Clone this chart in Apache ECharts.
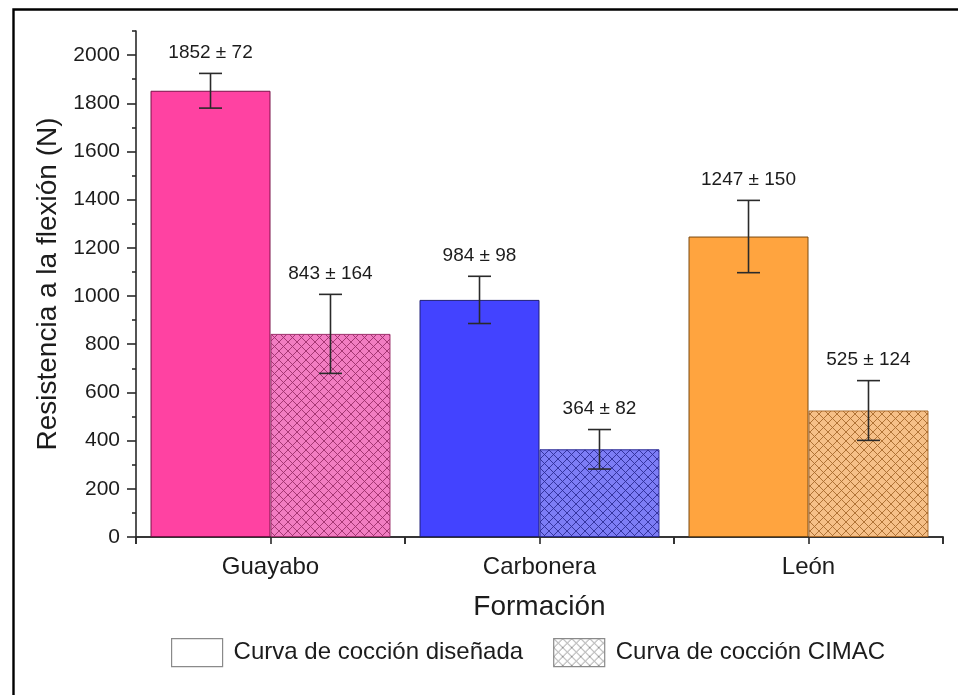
<!DOCTYPE html>
<html>
<head>
<meta charset="utf-8">
<script src="https://cdn.jsdelivr.net/npm/echarts@6/dist/echarts.min.js"></script>
<style>
  html, body { margin: 0; padding: 0; background: #fff; }
  #chart { width: 958px; height: 695px; }
</style>
</head>
<body>
<div id="chart"></div>
<script>
// Flexural strength by geological formation, two firing curves
const categories = ['Guayabo', 'Carbonera', 'León'];
const designedMean = [1852, 984, 1247];
const designedErr = [72, 98, 150];
const cimacMean = [843, 364, 525];
const cimacErr = [164, 82, 124];

const seriesNames = ['Curva de cocción diseñada', 'Curva de cocción CIMAC'];
const yMajorTicks = [0, 200, 400, 600, 800, 1000, 1200, 1400, 1600, 1800, 2000];
const yMinorTicks = [100, 300, 500, 700, 900, 1100, 1300, 1500, 1700, 1900, 2100];
// one slot per bar; this axis only carries the half-group ticks
const barSlots = ['G-d', 'G-c', 'C-d', 'C-c', 'L-d', 'L-c'];

// colours per formation
const solidColors = ['#FF42A2', '#4343FF', '#FFA43F'];
const solidEdges = ['#7A1048', '#1E1E78', '#7A4A10'];
const hatchFills = ['#F27DC2', '#7D7DF6', '#F6C088'];
const hatchLines = ['#9C2F6A', '#2C2C96', '#A86A2C'];

const FONT = '"Liberation Sans", Arial, Helvetica, sans-serif';
const TEXT = '#1c1c1c';
const AXIS = '#2a2a2a';
const TICK_LEN = 7;

function crossHatch(fill, line) {
  const s = 9;
  const c = document.createElement('canvas');
  c.width = s; c.height = s;
  const g = c.getContext('2d');
  g.fillStyle = fill;
  g.fillRect(0, 0, s, s);
  g.strokeStyle = line;
  g.lineWidth = 0.9;
  g.beginPath();
  g.moveTo(-1, -1); g.lineTo(s + 1, s + 1);
  g.moveTo(s + 1, -1); g.lineTo(-1, s + 1);
  g.stroke();
  return { image: c, repeat: 'repeat' };
}

const GAP = 0.108;           // category gap fraction
const SHIFT = (1 - GAP) / 4; // bar centre offset in band units

// error bar with caps and a "mean ± sd" label
function errorBars(side) {
  return function (params, api) {
    const i = api.value(0);
    const m = api.value(1);
    const e = api.value(2);
    const band = api.size([1, 0])[0];
    const x = api.coord([i, m])[0] + side * band * SHIFT;
    const yTop = api.coord([i, m + e])[1];
    const yBot = api.coord([i, m - e])[1];
    const cap = 11.5;
    const st = { stroke: AXIS, lineWidth: 1.6 };
    return {
      type: 'group',
      children: [
        { type: 'line', shape: { x1: x, y1: yTop, x2: x, y2: yBot }, style: st },
        { type: 'line', shape: { x1: x - cap, y1: yTop, x2: x + cap, y2: yTop }, style: st },
        { type: 'line', shape: { x1: x - cap, y1: yBot, x2: x + cap, y2: yBot }, style: st },
        {
          type: 'text', x: x, y: yTop - 21,
          style: {
            text: m + ' ± ' + e, align: 'center', verticalAlign: 'middle',
            font: '19px ' + FONT, fill: TEXT
          }
        }
      ]
    };
  };
}

const chart = echarts.init(document.getElementById('chart'), null, { renderer: 'canvas' });

const tickStyle = { color: AXIS, width: 1.6 };

const option = {
  animation: false,
  backgroundColor: '#fff',
  textStyle: { fontFamily: FONT, color: TEXT },
  grid: { left: 136, right: 15, top: 31, bottom: 158, containLabel: false },
  graphic: [{
    type: 'rect', left: 11, top: 7, silent: true,
    shape: { width: 980, height: 720 },
    style: { fill: 'none', stroke: '#000', lineWidth: 2.4 }
  }],
  legend: {
    left: 166, top: 633,
    itemWidth: 51, itemHeight: 28, itemGap: 30,
    icon: 'rect',
    textStyle: { fontSize: 24, color: TEXT, fontFamily: FONT, padding: [0, 0, 0, 6] },
    data: [
      { name: seriesNames[0], itemStyle: { color: '#fff', borderColor: '#8a8a8a', borderWidth: 1.2 } },
      { name: seriesNames[1], itemStyle: { color: crossHatch('#fff', '#8a8a8a'), borderColor: '#8a8a8a', borderWidth: 1.2 } }
    ]
  },
  xAxis: [{
    type: 'category',
    data: categories,
    name: 'Formación',
    nameLocation: 'middle',
    nameGap: 56,
    nameTextStyle: { fontSize: 28, color: TEXT, fontFamily: FONT },
    axisLine: { show: true, onZero: false, lineStyle: { color: AXIS, width: 1.6 } },
    axisTick: { show: true, interval: 0, length: TICK_LEN, lineStyle: tickStyle },
    axisLabel: { fontSize: 24, color: TEXT, margin: 18, fontFamily: FONT, interval: 0 },
    splitLine: { show: false }
  }, {
    type: 'category',
    data: barSlots,
    position: 'bottom',
    offset: 0,
    axisLine: { show: true, onZero: false, lineStyle: { color: AXIS, width: 1.6 } },
    axisTick: { show: true, interval: 0, length: TICK_LEN, lineStyle: tickStyle },
    axisLabel: { show: true, interval: 0, color: 'rgba(0,0,0,0)', fontSize: 1, formatter: () => '' },
    splitLine: { show: false }
  }],
  yAxis: [{
    type: 'value',
    min: 0, max: 2100,
    name: 'Resistencia a la flexión (N)',
    nameLocation: 'middle',
    nameGap: 74,
    nameTextStyle: { fontSize: 28, color: TEXT, fontFamily: FONT },
    axisLine: { show: true, lineStyle: { color: AXIS, width: 1.6 } },
    axisTick: { show: true, customValues: yMajorTicks, length: 9, lineStyle: tickStyle },
    axisLabel: {
      customValues: yMajorTicks, fontSize: 21, color: TEXT, margin: 16, fontFamily: FONT,
      formatter: v => String(v)
    },
    splitLine: { show: false }
  }, {
    type: 'value',
    min: 0, max: 2100,
    position: 'left',
    axisLine: { show: false },
    axisTick: { show: true, customValues: yMinorTicks, length: 4, lineStyle: tickStyle },
    axisLabel: { show: false },
    splitLine: { show: false }
  }],
  series: [{
    name: seriesNames[0],
    type: 'bar',
    xAxisIndex: 0,
    barGap: '0%',
    barCategoryGap: (GAP * 100) + '%',
    data: designedMean.map((v, i) => ({
      value: v,
      itemStyle: { color: solidColors[i], borderColor: solidEdges[i], borderWidth: 1 }
    }))
  }, {
    name: seriesNames[1],
    type: 'bar',
    xAxisIndex: 0,
    barGap: '0%',
    barCategoryGap: (GAP * 100) + '%',
    data: cimacMean.map((v, i) => ({
      value: v,
      itemStyle: { color: crossHatch(hatchFills[i], hatchLines[i]), borderColor: hatchLines[i], borderWidth: 1 }
    }))
  }, {
    type: 'custom',
    name: 'err-designed',
    xAxisIndex: 0,
    renderItem: errorBars(-1),
    encode: { x: 0, y: 1 },
    z: 5,
    silent: true,
    data: designedMean.map((v, i) => [i, v, designedErr[i]])
  }, {
    type: 'custom',
    name: 'err-cimac',
    xAxisIndex: 0,
    renderItem: errorBars(1),
    encode: { x: 0, y: 1 },
    z: 5,
    silent: true,
    data: cimacMean.map((v, i) => [i, v, cimacErr[i]])
  }]
};

chart.setOption(option);
</script>
</body>
</html>
